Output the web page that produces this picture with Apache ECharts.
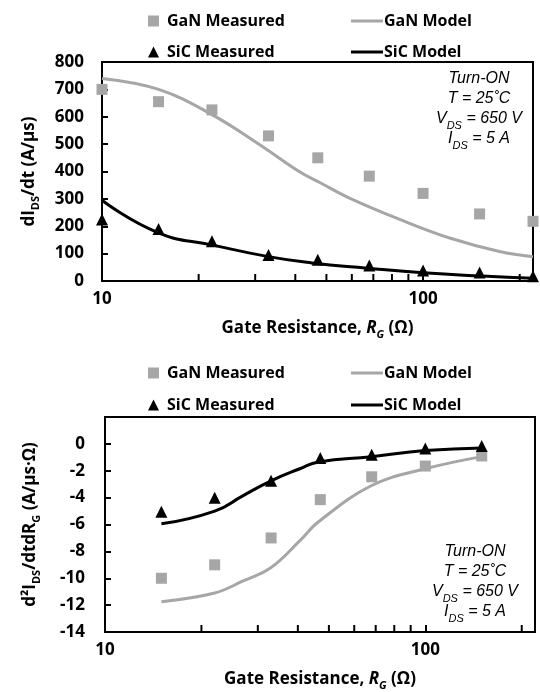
<!DOCTYPE html>
<html>
<head>
<meta charset="utf-8">
<script src="https://cdn.jsdelivr.net/npm/echarts@6/dist/echarts.min.js"></script>
<style>
html,body{margin:0;padding:0;background:#fff;}
#c{width:540px;height:692px;}
</style>
</head>
<body>
<div id="c"></div>
<script>
// ---------- data ----------
// top chart: dI_DS/dt (A/us) vs R_G
const rgTop = [10, 15, 22, 33, 47, 68, 100, 150, 220];
const ganMeasuredTop = [700, 655, 625, 530, 450, 383, 320, 245, 218];
const sicMeasuredTop = [225, 190, 145, 95, 78, 57, 38, 31, 17];
const ganModelRTop = [10, 15, 22, 31, 41, 48, 59, 85, 121, 173, 220];
const ganModelTop = [740, 700, 608, 498, 401, 358, 303, 224, 157, 108, 89];
const sicModelRTop = [10, 15, 22, 33, 45, 67, 100, 153, 220];
const sicModelTop = [295, 176, 132, 89, 66, 47, 30, 18, 10];

// bottom chart: d2I_DS/dtdR_G vs R_G
const rgBot = [15, 22, 33, 47, 68, 100, 150];
const ganMeasuredBot = [-10.0, -9.0, -7.0, -4.15, -2.45, -1.65, -0.9];
const sicMeasuredBot = [-5.05, -4.0, -2.75, -1.05, -0.8, -0.35, -0.15];
const ganModelRBot = [15, 22, 27, 33, 40.6, 46.4, 68, 100, 150];
const ganModelBot = [-11.75, -11.1, -10.2, -9.2, -7.2, -5.8, -3.1, -1.85, -0.95];
const sicModelRBot = [15, 22, 27, 33, 40.6, 46.4, 68, 100, 150];
const sicModelBot = [-5.95, -5.0, -3.85, -2.75, -1.85, -1.35, -0.95, -0.5, -0.3];

// axis ticks
const xMajorLabels = [10, 100];
const xMinorTicks = [20, 30, 40, 50, 60, 70, 80, 90, 200];
const legendLeftCol = ['GaN Measured', 'SiC Measured'];
const legendRightCol = ['GaN Model', 'SiC Model'];

// ---------- styles ----------
const FONT = 'Open Sans';
const GRAY = '#A6A6A6';
const pairs = (xs, ys) => xs.map((x, i) => [x, ys[i]]);

const nameRich = {
  b: {fontFamily: FONT, fontWeight: 'bold', fontSize: 17, color: '#000'},
  i: {fontFamily: FONT, fontWeight: 'bold', fontStyle: 'italic', fontSize: 17, color: '#000'},
  is: {fontFamily: FONT, fontWeight: 'bold', fontStyle: 'italic', fontSize: 11, color: '#000', verticalAlign: 'bottom', padding: [0, 0, -3, 0]},
  s: {fontFamily: FONT, fontWeight: 'bold', fontSize: 11, color: '#000', verticalAlign: 'bottom', padding: [0, 0, -3, 0]}
};

function xAxisDef(grid) {
  return {
    type: 'log', logBase: 10, gridIndex: grid, min: 10, max: 220,
    axisLine: {onZero: false, lineStyle: {color: '#000', width: 2}},
    axisTick: {inside: true, length: 7, lineStyle: {color: '#000', width: 2}},
    splitLine: {show: false},
    axisLabel: {
      margin: 10, color: '#000', fontFamily: FONT, fontWeight: 'bold', fontSize: 17,
      formatter: v => xMajorLabels.includes(Math.round(v)) ? String(Math.round(v)) : ''
    },
    name: '{b|Gate Resistance, }{i|R}{is|G}{b| (Ω)}',
    nameLocation: 'middle', nameGap: 39,
    nameTextStyle: {rich: nameRich}
  };
}

function legendDefs(top, gap) {
  const ts = {fontFamily: FONT, fontWeight: 'bold', fontSize: 16, color: '#000'};
  return [
    {left: 143, top: top, orient: 'vertical', itemWidth: 11, itemHeight: 11, itemGap: gap,
     selectedMode: false, data: legendLeftCol, textStyle: Object.assign({padding: [0, 0, 0, 3]}, ts)},
    {left: 346, top: top, orient: 'vertical', itemWidth: 32, itemHeight: 3, itemGap: gap,
     selectedMode: false, data: legendRightCol.map(n => ({name: n, icon: 'rect'})),
     textStyle: Object.assign({padding: [0, 0, 0, -4]}, ts)}
  ];
}

function annot(x, y) {
  const a = {fontFamily: 'Liberation Sans', fontStyle: 'italic', fontSize: 16, lineHeight: 20, fill: '#000'};
  const s = {fontFamily: 'Liberation Sans', fontStyle: 'italic', fontSize: 11, fill: '#000', verticalAlign: 'bottom', padding: [0, 0, -2, 0]};
  return {
    type: 'text', x: x, y: y, z: 100,
    style: {
      text: '{a|Turn-ON}\n{a|T = 25˚C}\n{a|V}{s|DS}{a| = 650 V}\n{a|I}{s|DS}{a| = 5 A}',
      align: 'center', verticalAlign: 'top',
      rich: {a: a, s: s}
    }
  };
}

function seriesSet(xi, yi, gm, sm, gmod, smod, tickY) {
  return [
    {name: 'GaN Model', type: 'line', xAxisIndex: xi, yAxisIndex: yi, data: gmod, smooth: 0.4,
     symbol: 'none', lineStyle: {color: GRAY, width: 3}, itemStyle: {color: GRAY}, z: 2},
    {name: 'SiC Model', type: 'line', xAxisIndex: xi, yAxisIndex: yi, data: smod, smooth: 0.5,
     symbol: 'none', lineStyle: {color: '#000', width: 3}, itemStyle: {color: '#000'}, z: 3},
    {name: 'GaN Measured', type: 'scatter', xAxisIndex: xi, yAxisIndex: yi, data: gm,
     symbol: 'rect', symbolSize: 11, itemStyle: {color: GRAY, opacity: 1}, clip: false, z: 4},
    {name: 'SiC Measured', type: 'scatter', xAxisIndex: xi, yAxisIndex: yi, data: sm,
     symbol: 'triangle', symbolSize: 12, itemStyle: {color: '#000', opacity: 1}, clip: false, z: 5},
    {name: 'minor ticks', type: 'scatter', xAxisIndex: xi, yAxisIndex: yi, silent: true,
     data: xMinorTicks.map(v => [v, tickY]), symbol: 'rect', symbolSize: [2, 7], symbolOffset: [0, -3.5],
     itemStyle: {color: '#000', opacity: 1}, clip: false, z: 6, tooltip: {show: false}}
  ];
}

const chart = echarts.init(document.getElementById('c'), null, {renderer: 'canvas'});
chart.setOption({
  animation: false,
  backgroundColor: '#fff',
  grid: [
    {left: 102, right: 7, top: 62, bottom: 411, show: true, borderColor: '#000', borderWidth: 2, backgroundColor: 'transparent'},
    {left: 105, right: 5, top: 417, bottom: 58, show: true, borderColor: '#000', borderWidth: 2, backgroundColor: 'transparent'}
  ],
  legend: legendDefs(8, 15).concat(legendDefs(360, 16)),
  xAxis: [xAxisDef(0), xAxisDef(1)],
  yAxis: [
    {type: 'value', gridIndex: 0, min: 0, max: 800, interval: 100,
     axisLine: {show: true, onZero: false, lineStyle: {color: '#000', width: 2}},
     axisTick: {show: true, inside: true, length: 6, lineStyle: {color: '#000', width: 2}},
     splitLine: {show: false},
     axisLabel: {margin: 18, color: '#000', fontFamily: FONT, fontWeight: 'bold', fontSize: 17},
     name: '{b|dI}{s|DS}{b|/dt (A/μs)}', nameLocation: 'middle', nameRotate: 90, nameGap: 64,
     nameTextStyle: {rich: nameRich}},
    {type: 'value', gridIndex: 1, min: -14, max: 2, interval: 2,
     axisLine: {show: true, onZero: false, lineStyle: {color: '#000', width: 2}},
     axisTick: {show: true, inside: true, length: 6, lineStyle: {color: '#000', width: 2}},
     splitLine: {show: false},
     axisLabel: {margin: 20, color: '#000', fontFamily: FONT, fontWeight: 'bold', fontSize: 17,
                 formatter: v => v > 0 ? '' : String(v)},
     name: '{b|d²I}{s|DS}{b|/dtdR}{s|G}{b| (A/μs·Ω)}', nameLocation: 'middle', nameRotate: 90, nameGap: 66,
     nameTextStyle: {rich: nameRich}}
  ],
  series: [].concat(
    seriesSet(0, 0, pairs(rgTop, ganMeasuredTop), pairs(rgTop, sicMeasuredTop),
              pairs(ganModelRTop, ganModelTop), pairs(sicModelRTop, sicModelTop), 0),
    seriesSet(1, 1, pairs(rgBot, ganMeasuredBot), pairs(rgBot, sicMeasuredBot),
              pairs(ganModelRBot, ganModelBot), pairs(sicModelRBot, sicModelBot), -14)
  ),
  graphic: [annot(479, 69), annot(475, 542)]
});
</script>
</body>
</html>
